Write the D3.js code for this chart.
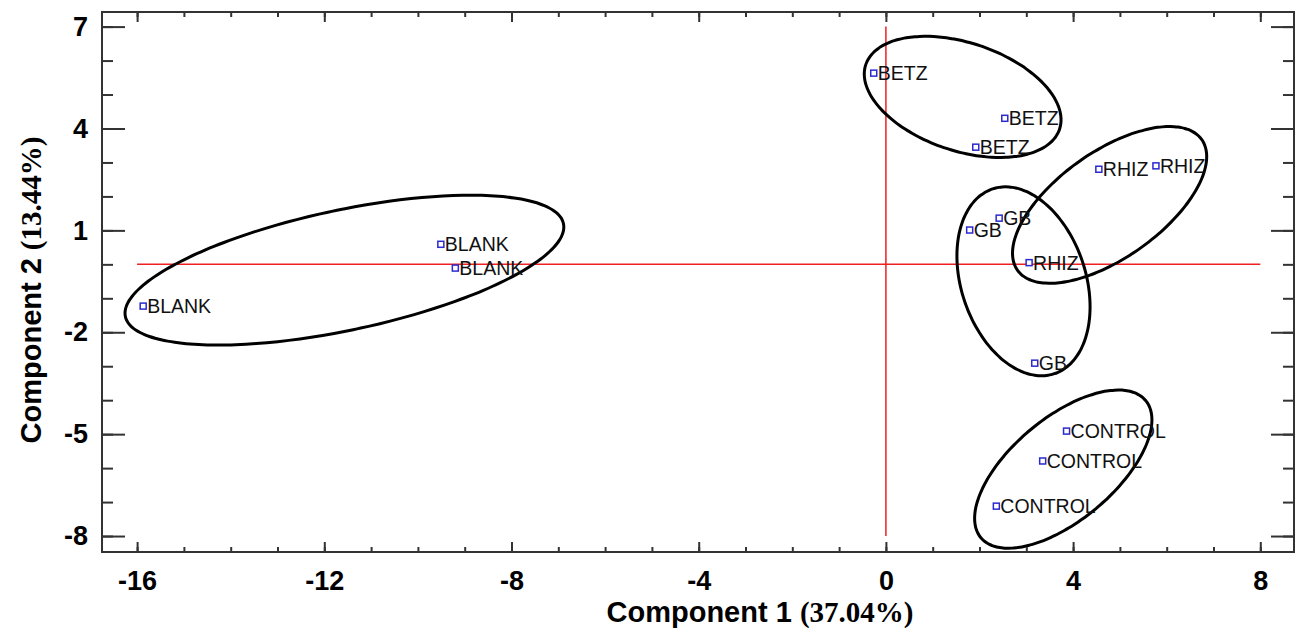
<!DOCTYPE html>
<meta charset="utf-8">
<style>
body { margin: 0; background: #fff; }
.tick text { font-family: Arial, "Liberation Sans", sans-serif; font-weight: bold; font-size: 27px; fill: #000; }
.tick line { stroke: #333; stroke-width: 2px; }
.lbl { font-family: Arial, "Liberation Sans", sans-serif; font-size: 19.5px; fill: #111; }
.title { font-family: Arial, "Liberation Sans", sans-serif; font-weight: bold; font-size: 29px; fill: #000; }
.title .pct { font-family: "Times New Roman", "Liberation Serif", serif; }
</style>
<body>
</body>
<script src="https://cdn.jsdelivr.net/npm/d3@7"></script>
<script>

// scores
var groups = ["BLANK", "BLANK", "BLANK", "BETZ", "BETZ", "BETZ", "RHIZ", "RHIZ", "RHIZ",
              "GB", "GB", "GB", "CONTROL", "CONTROL", "CONTROL"];
var comp1 = [-15.87, -9.51, -9.20, -0.26, 2.54, 1.92, 4.55, 5.77, 3.06,
             2.42, 1.79, 3.18, 3.86, 3.35, 2.36];
var comp2 = [-1.23, 0.59, -0.11, 5.63, 4.30, 3.45, 2.80, 2.90, 0.05,
             1.36, 1.01, -2.91, -4.91, -5.79, -7.12];

// group ellipses: centre and two conjugate semi-axis vectors, all in score units
var ellCx = [-11.57, 1.64, 4.78, 2.94, 3.79];
var ellCy = [-0.17, 4.93, 1.75, -0.50, -6.03];
var ellA = [[4.68, 1.37], [2.07, -0.95], [1.97, 1.92], [0.66, -2.72], [1.76, 2.02]];
var ellB = [[-0.27, 1.73], [0.365, 1.51], [-0.65, 1.28], [1.26, 0.58], [-0.70, 1.16]];

var xMajor = [-16, -12, -8, -4, 0, 4, 8];
var yMajor = [7, 4, 1, -2, -5, -8];
var xTitle = "Component 1", xPct = "(37.04%)";
var yTitle = "Component 2", yPct = "(13.44%)";

var W = 1296, H = 635;
var pLeft = 102, pRight = 1294, pTop = 12, pBottom = 552;

var svg = d3.select("body").append("svg")
    .attr("width", W)
    .attr("height", H);

var x = d3.scaleLinear().domain([-16.75, 8.72]).range([pLeft, pRight]);
var y = d3.scaleLinear().domain([-8.47, 7.43]).range([pBottom, pTop]);

var xMinor = d3.range(-16, 9, 1);
var yMinor = d3.range(-8, 8, 1);
var plain = function(d) { return String(d); };

// red zero lines
svg.append("line")
    .attr("x1", x(-16)).attr("x2", x(8))
    .attr("y1", y(0)).attr("y2", y(0))
    .attr("stroke", "#ee2020").attr("stroke-width", 1.5);
svg.append("line")
    .attr("x1", x(0)).attr("x2", x(0))
    .attr("y1", y(7)).attr("y2", y(-8))
    .attr("stroke", "#ee2020").attr("stroke-width", 1.5);

// ellipses
var line = d3.line().curve(d3.curveCardinalClosed);
for (var e = 0; e < ellCx.length; e++) {
  var pts = d3.range(0, 360, 3).map(function(deg) {
    var t = deg * Math.PI / 180;
    var vx = ellCx[e] + ellA[e][0] * Math.cos(t) + ellB[e][0] * Math.sin(t);
    var vy = ellCy[e] + ellA[e][1] * Math.cos(t) + ellB[e][1] * Math.sin(t);
    return [x(vx), y(vy)];
  });
  svg.append("path")
      .attr("d", line(pts))
      .attr("fill", "none")
      .attr("stroke", "#000")
      .attr("stroke-width", 3);
}

// axes: ticks pointing inwards on all four sides
function noDomain(g) { g.select(".domain").remove(); }

svg.append("g")
    .attr("transform", "translate(0," + pBottom + ")")
    .call(d3.axisBottom(x).tickValues(xMinor).tickSizeInner(-5).tickSizeOuter(0).tickFormat(""))
    .call(noDomain);
svg.append("g")
    .attr("transform", "translate(0," + pBottom + ")")
    .call(d3.axisBottom(x).tickValues(xMajor).tickSizeInner(-10).tickSizeOuter(0).tickPadding(19).tickFormat(plain))
    .call(noDomain);
svg.append("g")
    .attr("transform", "translate(0," + pTop + ")")
    .call(d3.axisTop(x).tickValues(xMinor).tickSizeInner(-5).tickSizeOuter(0).tickFormat(""))
    .call(noDomain);
svg.append("g")
    .attr("transform", "translate(0," + pTop + ")")
    .call(d3.axisTop(x).tickValues(xMajor).tickSizeInner(-10).tickSizeOuter(0).tickFormat(""))
    .call(noDomain);

svg.append("g")
    .attr("transform", "translate(" + pLeft + ",0)")
    .call(d3.axisLeft(y).tickValues(yMinor).tickSizeInner(-11).tickSizeOuter(0).tickFormat(""))
    .call(noDomain);
svg.append("g")
    .attr("transform", "translate(" + pLeft + ",0)")
    .call(d3.axisLeft(y).tickValues(yMajor).tickSizeInner(-23).tickSizeOuter(0).tickPadding(14).tickFormat(plain))
    .call(noDomain);
svg.append("g")
    .attr("transform", "translate(" + pRight + ",0)")
    .call(d3.axisRight(y).tickValues(yMinor).tickSizeInner(-11).tickSizeOuter(0).tickFormat(""))
    .call(noDomain);
svg.append("g")
    .attr("transform", "translate(" + pRight + ",0)")
    .call(d3.axisRight(y).tickValues(yMajor).tickSizeInner(-23).tickSizeOuter(0).tickFormat(""))
    .call(noDomain);

// frame
svg.append("rect")
    .attr("x", pLeft).attr("y", pTop)
    .attr("width", pRight - pLeft).attr("height", pBottom - pTop)
    .attr("fill", "none")
    .attr("stroke", "#333")
    .attr("stroke-width", 2);

// points and labels
var idx = d3.range(groups.length);
svg.append("g").selectAll("rect")
    .data(idx)
    .enter().append("rect")
      .attr("x", function(i) { return x(comp1[i]) - 3; })
      .attr("y", function(i) { return y(comp2[i]) - 3; })
      .attr("width", 6)
      .attr("height", 6)
      .attr("fill", "#fff")
      .attr("stroke", "#2a2ad0")
      .attr("stroke-width", 1.5);

svg.append("g").selectAll("text")
    .data(idx)
    .enter().append("text")
      .attr("class", "lbl")
      .attr("x", function(i) { return x(comp1[i]) + 4; })
      .attr("y", function(i) { return y(comp2[i]); })
      .attr("dy", "0.36em")
      .text(function(i) { return groups[i]; });

// axis titles
var xt = svg.append("text")
    .attr("class", "title")
    .attr("x", 760)
    .attr("y", 622)
    .attr("text-anchor", "middle");
xt.append("tspan").text(xTitle + " ");
xt.append("tspan").attr("class", "pct").text(xPct);

var yt = svg.append("text")
    .attr("class", "title")
    .attr("transform", "translate(41,290) rotate(-90)")
    .attr("text-anchor", "middle");
yt.append("tspan").text(yTitle + " ");
yt.append("tspan").attr("class", "pct").text(yPct);

</script>
